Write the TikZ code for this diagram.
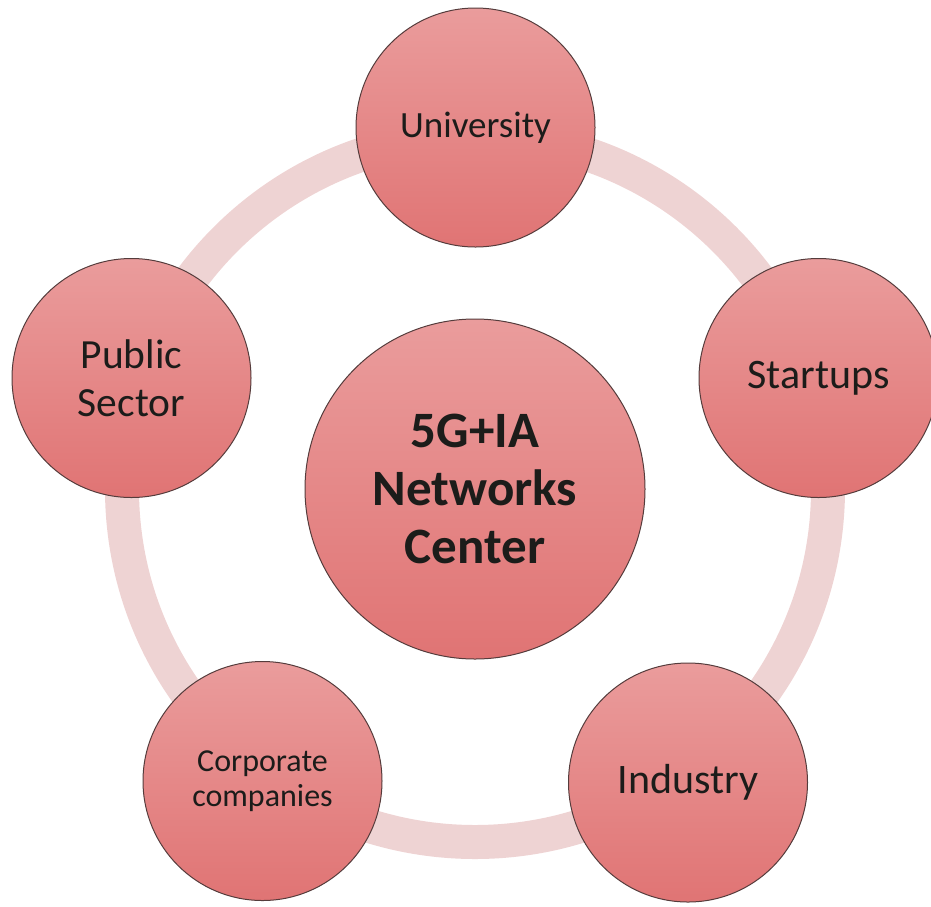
\documentclass[tikz,border=0pt]{standalone}
\usepackage{fontspec}
\setmainfont{Carlito}
\definecolor{nodetop}{RGB}{234,156,156}
\definecolor{nodebot}{RGB}{224,116,116}
\definecolor{ringcol}{RGB}{238,211,211}
\definecolor{edgecol}{RGB}{85,60,60}
\definecolor{txtcol}{RGB}{28,28,26}
\tikzset{
  bubble/.style={circle, draw=edgecol, line width=1pt, top color=nodetop, bottom color=nodebot,
    minimum size=239pt, inner sep=0pt, align=center, text=txtcol},
  hub/.style={bubble, minimum size=340pt, font=\bfseries\fontsize{51}{58}\selectfont},
  ring/.style={draw=ringcol, line width=34pt}
}
\begin{document}
\begin{tikzpicture}[x=1pt,y=-1pt]
\useasboundingbox (0,0) rectangle (931,906);
\clip (0,0) rectangle (931,906);
\coordinate (c) at (475,489);
\draw[ring] (c) circle[radius=353pt];
\node[hub] (center) at (c) {5G+IA\\Networks\\Center};
\node[bubble, font=\fontsize{37}{44}\selectfont] (uni) at (475.5,127.5) {University};
\node[bubble, font=\fontsize{42}{48}\selectfont] (start) at (818.5,378) {Startups};
\node[bubble, font=\fontsize{42}{48}\selectfont] (ind) at (688,782.5) {Industry};
\node[bubble, font=\fontsize{32}{35}\selectfont] (corp) at (262.5,781) {Corporate\\companies};
\node[bubble, font=\fontsize{41.5}{47.5}\selectfont] (pub) at (131.5,378) {Public\\Sector};
\end{tikzpicture}
\end{document}
